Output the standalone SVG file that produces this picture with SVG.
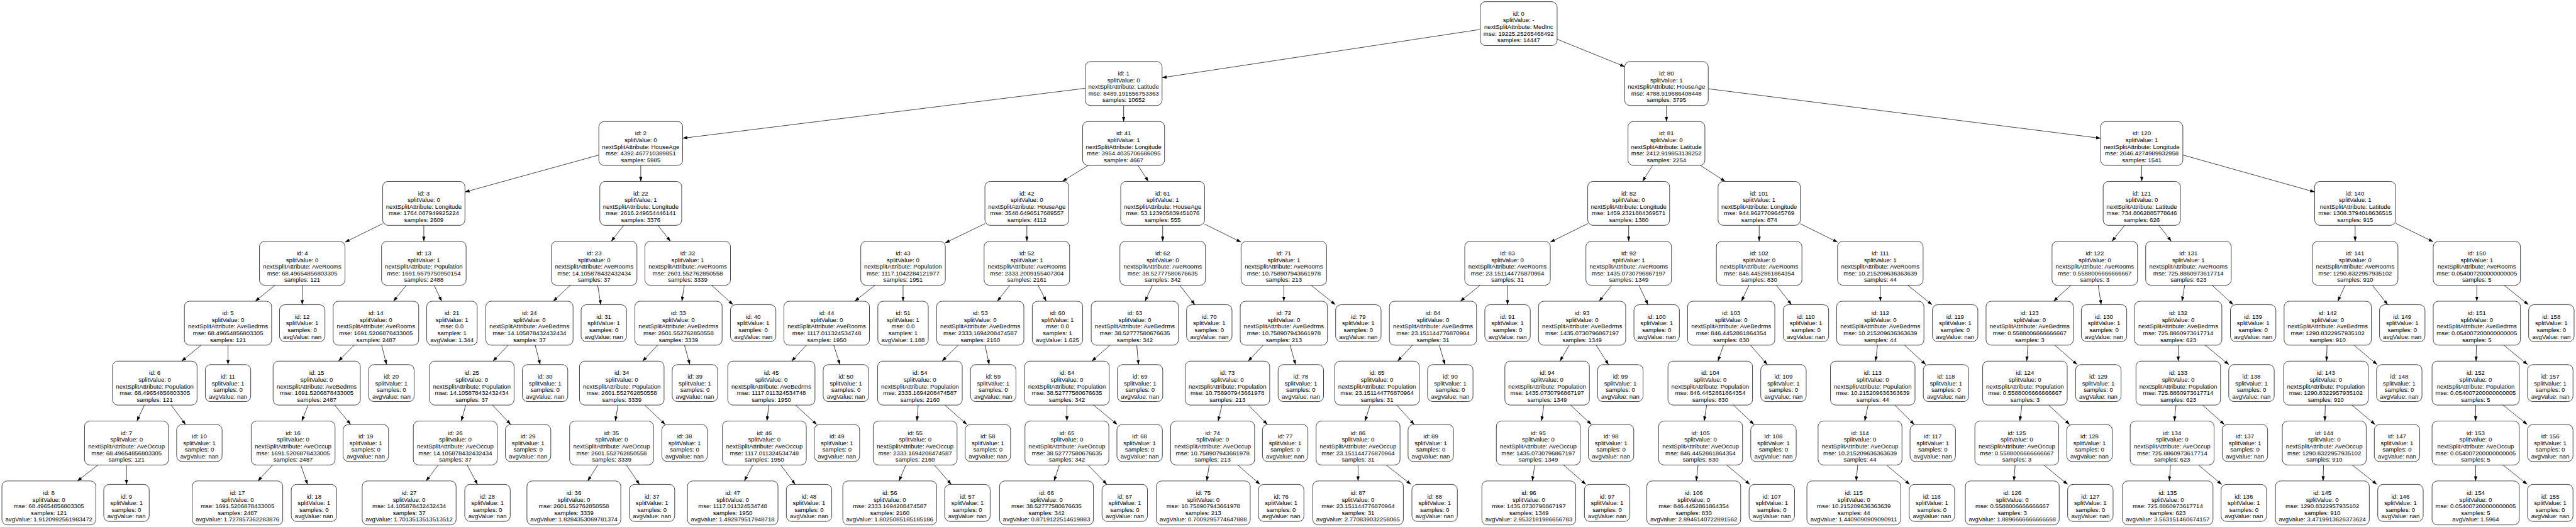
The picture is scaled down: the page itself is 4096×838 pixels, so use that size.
<svg xmlns="http://www.w3.org/2000/svg" width="4096" height="838" viewBox="0 0 4096 838">
<defs>
<marker id="arr" viewBox="0 0 14 10" refX="14" refY="5" markerWidth="14" markerHeight="10" markerUnits="userSpaceOnUse" orient="auto"><path d="M0,0L14,5L0,10z" fill="#000"/></marker>
<style>
.n rect{fill:#fff;stroke:#000;stroke-width:1.4}
.n text{font-family:"Liberation Sans",Arial,Helvetica,sans-serif;font-size:18.2px;text-anchor:middle;fill:#000}
#edges line{stroke:#000;stroke-width:1.4;marker-end:url(#arr)}
</style>
</defs>
<rect width="4096" height="838" fill="#fff"/>
<g transform="scale(0.52927)">
<g id="edges">
<line x1="4447" y1="88.5" x2="3491.2" y2="233.5"/>
<line x1="4678" y1="117.8" x2="4881" y2="200.1"/>
<line x1="3260.2" y1="265.3" x2="2051" y2="415.4"/>
<line x1="3375.7" y1="317" x2="3375.7" y2="365"/>
<line x1="5006.5" y1="317" x2="5006.5" y2="365"/>
<line x1="5132" y1="266.8" x2="6310.9" y2="415.4"/>
<line x1="1799" y1="465.8" x2="1396.8" y2="576.9"/>
<line x1="1925" y1="497" x2="1925" y2="545"/>
<line x1="3269.1" y1="497" x2="3191.6" y2="545"/>
<line x1="3418.7" y1="497" x2="3450" y2="545"/>
<line x1="4964.9" y1="497" x2="4934.6" y2="545"/>
<line x1="5108.6" y1="497" x2="5182.9" y2="545"/>
<line x1="6434.4" y1="497" x2="6434.4" y2="545"/>
<line x1="6557.9" y1="465.7" x2="6954" y2="576.9"/>
<line x1="1149.8" y1="671.9" x2="1036.5" y2="727.7"/>
<line x1="1273.3" y1="677" x2="1273.3" y2="725"/>
<line x1="1873.7" y1="677" x2="1836.3" y2="725"/>
<line x1="1976.7" y1="677" x2="2014.3" y2="725"/>
<line x1="2959" y1="672" x2="2839.5" y2="729.8"/>
<line x1="3085" y1="677" x2="3085" y2="725"/>
<line x1="3493" y1="677" x2="3493" y2="725"/>
<line x1="3619" y1="673.3" x2="3728.5" y2="727.5"/>
<line x1="4770" y1="671.8" x2="4657.5" y2="727.5"/>
<line x1="4893" y1="677" x2="4893" y2="725"/>
<line x1="5285" y1="677" x2="5285" y2="725"/>
<line x1="5408.5" y1="672.1" x2="5520.5" y2="727.5"/>
<line x1="6382.7" y1="677" x2="6345" y2="725"/>
<line x1="6485.8" y1="677" x2="6523.3" y2="725"/>
<line x1="7075.5" y1="677" x2="7075.5" y2="725"/>
<line x1="7197" y1="670.8" x2="7310" y2="726.5"/>
<line x1="826.2" y1="857" x2="766.8" y2="905"/>
<line x1="908" y1="857" x2="908" y2="915.5"/>
<line x1="1220.5" y1="857" x2="1182.2" y2="905"/>
<line x1="1304.3" y1="857" x2="1326.8" y2="905"/>
<line x1="1713.7" y1="857" x2="1661.9" y2="905"/>
<line x1="1795.6" y1="857" x2="1805.1" y2="915.5"/>
<line x1="2055.9" y1="857" x2="2048.5" y2="905"/>
<line x1="2138.1" y1="857" x2="2202.1" y2="915.5"/>
<line x1="2628.9" y1="857" x2="2567.7" y2="905"/>
<line x1="2713" y1="857" x2="2713" y2="905"/>
<line x1="3033.7" y1="857" x2="2996.3" y2="905"/>
<line x1="3118.7" y1="857" x2="3143.3" y2="905"/>
<line x1="3462.3" y1="857" x2="3440" y2="905"/>
<line x1="3544.3" y1="857" x2="3589.8" y2="915.5"/>
<line x1="3857" y1="857" x2="3857" y2="905"/>
<line x1="3939.1" y1="857" x2="4011.8" y2="915.5"/>
<line x1="4446.9" y1="857" x2="4387.1" y2="905"/>
<line x1="4529" y1="857" x2="4529" y2="915.5"/>
<line x1="4841.7" y1="857" x2="4804.3" y2="905"/>
<line x1="4923.8" y1="857" x2="4951.1" y2="915.5"/>
<line x1="5254.2" y1="857" x2="5231.8" y2="905"/>
<line x1="5336.5" y1="857" x2="5382.2" y2="915.5"/>
<line x1="5649" y1="857" x2="5649" y2="905"/>
<line x1="5731.4" y1="857" x2="5804.4" y2="915.5"/>
<line x1="6221.5" y1="857" x2="6169.4" y2="905"/>
<line x1="6303.5" y1="857" x2="6312.5" y2="915.5"/>
<line x1="6563.4" y1="857" x2="6555.3" y2="905"/>
<line x1="6645.9" y1="857" x2="6709.1" y2="915.5"/>
<line x1="7045.3" y1="857" x2="7023.3" y2="905"/>
<line x1="7127.4" y1="857" x2="7173.4" y2="915.5"/>
<line x1="7441" y1="857" x2="7441" y2="905"/>
<line x1="7523.1" y1="857" x2="7595.9" y2="915.5"/>
<line x1="604.3" y1="1037" x2="545.7" y2="1085"/>
<line x1="685" y1="1037" x2="685" y2="1095.5"/>
<line x1="1064.2" y1="1037" x2="1016.7" y2="1085"/>
<line x1="1146.4" y1="1037" x2="1161.5" y2="1095.5"/>
<line x1="1527.1" y1="1037" x2="1480.9" y2="1085"/>
<line x1="1607.8" y1="1037" x2="1623" y2="1095.5"/>
<line x1="1975.9" y1="1037" x2="1930.5" y2="1085"/>
<line x1="2056.5" y1="1037" x2="2072.5" y2="1095.5"/>
<line x1="2422.7" y1="1037" x2="2378.3" y2="1085"/>
<line x1="2504.8" y1="1037" x2="2523.5" y2="1095.5"/>
<line x1="2878.6" y1="1037" x2="2830.2" y2="1085"/>
<line x1="2959.3" y1="1037" x2="2971.9" y2="1095.5"/>
<line x1="3334.5" y1="1037" x2="3280.1" y2="1085"/>
<line x1="3415.1" y1="1037" x2="3420.2" y2="1095.5"/>
<line x1="3794.8" y1="1037" x2="3749.7" y2="1085"/>
<line x1="3875.7" y1="1037" x2="3892.3" y2="1095.5"/>
<line x1="4243.4" y1="1037" x2="4198.6" y2="1085"/>
<line x1="4324.1" y1="1037" x2="4341" y2="1095.5"/>
<line x1="4714.5" y1="1037" x2="4686.5" y2="1085"/>
<line x1="4795.2" y1="1037" x2="4832.5" y2="1095.5"/>
<line x1="5177.9" y1="1037" x2="5161.1" y2="1085"/>
<line x1="5258.6" y1="1037" x2="5309.6" y2="1095.5"/>
<line x1="5640.6" y1="1037" x2="5634.6" y2="1085"/>
<line x1="5721.4" y1="1037" x2="5785.5" y2="1095.5"/>
<line x1="6092.4" y1="1037" x2="6088.7" y2="1085"/>
<line x1="6173.3" y1="1037" x2="6240.4" y2="1095.5"/>
<line x1="6544" y1="1037" x2="6544" y2="1085"/>
<line x1="6624.7" y1="1037" x2="6696.2" y2="1095.5"/>
<line x1="6991" y1="1037" x2="6989.6" y2="1085"/>
<line x1="7071.8" y1="1037" x2="7141.7" y2="1095.5"/>
<line x1="7439.7" y1="1037" x2="7438.8" y2="1085"/>
<line x1="7521.9" y1="1037" x2="7593.7" y2="1095.5"/>
<line x1="433.8" y1="1217" x2="411.2" y2="1265"/>
<line x1="514.1" y1="1217" x2="557.7" y2="1275.5"/>
<line x1="925.5" y1="1217" x2="906.6" y2="1265"/>
<line x1="1005.6" y1="1217" x2="1053.5" y2="1275.5"/>
<line x1="1399.2" y1="1217" x2="1385.9" y2="1265"/>
<line x1="1479.4" y1="1217" x2="1534.4" y2="1275.5"/>
<line x1="1856.7" y1="1217" x2="1848.6" y2="1265"/>
<line x1="1937.2" y1="1217" x2="1998.5" y2="1275.5"/>
<line x1="2309.7" y1="1217" x2="2304" y2="1265"/>
<line x1="2389.6" y1="1217" x2="2453.7" y2="1275.5"/>
<line x1="2758.5" y1="1217" x2="2754.6" y2="1265"/>
<line x1="2838.6" y1="1217" x2="2904.9" y2="1275.5"/>
<line x1="3205.3" y1="1217" x2="3205.3" y2="1265"/>
<line x1="3285.4" y1="1217" x2="3356.4" y2="1275.5"/>
<line x1="3671.2" y1="1217" x2="3659.4" y2="1265"/>
<line x1="3751.1" y1="1217" x2="3807.5" y2="1275.5"/>
<line x1="4116.1" y1="1217" x2="4100.9" y2="1265"/>
<line x1="4196.2" y1="1217" x2="4248.6" y2="1275.5"/>
<line x1="4638.2" y1="1217" x2="4631.2" y2="1265"/>
<line x1="4718.4" y1="1217" x2="4780.8" y2="1275.5"/>
<line x1="5127.4" y1="1217" x2="5119.6" y2="1265"/>
<line x1="5207.7" y1="1217" x2="5269.4" y2="1275.5"/>
<line x1="5612.2" y1="1217" x2="5602" y2="1265"/>
<line x1="5692.3" y1="1217" x2="5750.9" y2="1275.5"/>
<line x1="6074.5" y1="1217" x2="6068" y2="1265"/>
<line x1="6154.6" y1="1217" x2="6217.7" y2="1275.5"/>
<line x1="6537.3" y1="1217" x2="6532.3" y2="1265"/>
<line x1="6617.4" y1="1217" x2="6682.5" y2="1275.5"/>
<line x1="6985.8" y1="1217" x2="6984.5" y2="1265"/>
<line x1="7066" y1="1217" x2="7135.4" y2="1275.5"/>
<line x1="7437.5" y1="1217" x2="7437.5" y2="1265"/>
<line x1="7519.7" y1="1217" x2="7592.6" y2="1275.5"/>
<line x1="294.5" y1="1397" x2="232.3" y2="1445"/>
<line x1="380" y1="1397" x2="380" y2="1455.5"/>
<line x1="819.3" y1="1397" x2="774.8" y2="1445"/>
<line x1="903.6" y1="1397" x2="923.9" y2="1455.5"/>
<line x1="1316.9" y1="1397" x2="1280" y2="1445"/>
<line x1="1403.2" y1="1397" x2="1434.7" y2="1455.5"/>
<line x1="1795.8" y1="1397" x2="1765.6" y2="1445"/>
<line x1="1881.9" y1="1397" x2="1921.3" y2="1455.5"/>
<line x1="2261.5" y1="1397" x2="2236.1" y2="1445"/>
<line x1="2345.5" y1="1397" x2="2389.2" y2="1455.5"/>
<line x1="2721.3" y1="1397" x2="2701" y2="1445"/>
<line x1="2806.9" y1="1397" x2="2858" y2="1455.5"/>
<line x1="3182.8" y1="1397" x2="3166.5" y2="1445"/>
<line x1="3269" y1="1397" x2="3325.4" y2="1455.5"/>
<line x1="3632.8" y1="1397" x2="3625.3" y2="1445"/>
<line x1="3718.6" y1="1397" x2="3785.5" y2="1455.5"/>
<line x1="4080" y1="1397" x2="4080" y2="1445"/>
<line x1="4164.3" y1="1397" x2="4239.1" y2="1455.5"/>
<line x1="4611" y1="1397" x2="4603.4" y2="1445"/>
<line x1="4697.3" y1="1397" x2="4764.5" y2="1455.5"/>
<line x1="5101.5" y1="1397" x2="5096" y2="1445"/>
<line x1="5187.5" y1="1397" x2="5257" y2="1455.5"/>
<line x1="5581.2" y1="1397" x2="5576.2" y2="1445"/>
<line x1="5667.2" y1="1397" x2="5737.4" y2="1455.5"/>
<line x1="6054" y1="1397" x2="6050.4" y2="1445"/>
<line x1="6140" y1="1397" x2="6211.9" y2="1455.5"/>
<line x1="6520.8" y1="1397" x2="6517.2" y2="1445"/>
<line x1="6604.6" y1="1397" x2="6674.6" y2="1455.5"/>
<line x1="6980.6" y1="1397" x2="6979.1" y2="1445"/>
<line x1="7066.6" y1="1397" x2="7141" y2="1455.5"/>
<line x1="7437.5" y1="1397" x2="7437.5" y2="1445"/>
<line x1="7519.7" y1="1397" x2="7592.6" y2="1455.5"/>
</g>
<g id="nodes">
<g id="n0" class="n" transform="translate(4562.5,5)"><rect x="-115.5" width="231" height="132" rx="16"/><text y="42"><tspan x="0">id: 0</tspan><tspan x="0" dy="20">splitValue: -</tspan><tspan x="0" dy="20">nextSplitAttribute: MedInc</tspan><tspan x="0" dy="20">mse: 19225.25265468492</tspan><tspan x="0" dy="20">samples: 14447</tspan></text></g>
<g id="n1" class="n" transform="translate(3375.7,185)"><rect x="-115.5" width="231" height="132" rx="16"/><text y="42"><tspan x="0">id: 1</tspan><tspan x="0" dy="20">splitValue: 0</tspan><tspan x="0" dy="20">nextSplitAttribute: Latitude</tspan><tspan x="0" dy="20">mse: 8489.191556753363</tspan><tspan x="0" dy="20">samples: 10652</tspan></text></g>
<g id="n80" class="n" transform="translate(5006.5,185)"><rect x="-125.5" width="251" height="132" rx="16"/><text y="42"><tspan x="0">id: 80</tspan><tspan x="0" dy="20">splitValue: 1</tspan><tspan x="0" dy="20">nextSplitAttribute: HouseAge</tspan><tspan x="0" dy="20">mse: 4788.919686408448</tspan><tspan x="0" dy="20">samples: 3795</tspan></text></g>
<g id="n2" class="n" transform="translate(1925,365)"><rect x="-126" width="252" height="132" rx="16"/><text y="42"><tspan x="0">id: 2</tspan><tspan x="0" dy="20">splitValue: 0</tspan><tspan x="0" dy="20">nextSplitAttribute: HouseAge</tspan><tspan x="0" dy="20">mse: 4392.467710389851</tspan><tspan x="0" dy="20">samples: 5985</tspan></text></g>
<g id="n41" class="n" transform="translate(3375.7,365)"><rect x="-123" width="246" height="132" rx="16"/><text y="42"><tspan x="0">id: 41</tspan><tspan x="0" dy="20">splitValue: 1</tspan><tspan x="0" dy="20">nextSplitAttribute: Longitude</tspan><tspan x="0" dy="20">mse: 3954.4035706686095</tspan><tspan x="0" dy="20">samples: 4667</tspan></text></g>
<g id="n81" class="n" transform="translate(5006.5,365)"><rect x="-115.5" width="231" height="132" rx="16"/><text y="42"><tspan x="0">id: 81</tspan><tspan x="0" dy="20">splitValue: 0</tspan><tspan x="0" dy="20">nextSplitAttribute: Latitude</tspan><tspan x="0" dy="20">mse: 2412.919853138252</tspan><tspan x="0" dy="20">samples: 2254</tspan></text></g>
<g id="n120" class="n" transform="translate(6434.4,365)"><rect x="-123.5" width="247" height="132" rx="16"/><text y="42"><tspan x="0">id: 120</tspan><tspan x="0" dy="20">splitValue: 1</tspan><tspan x="0" dy="20">nextSplitAttribute: Longitude</tspan><tspan x="0" dy="20">mse: 2046.4274989932958</tspan><tspan x="0" dy="20">samples: 1541</tspan></text></g>
<g id="n3" class="n" transform="translate(1273.3,545)"><rect x="-123.5" width="247" height="132" rx="16"/><text y="42"><tspan x="0">id: 3</tspan><tspan x="0" dy="20">splitValue: 0</tspan><tspan x="0" dy="20">nextSplitAttribute: Longitude</tspan><tspan x="0" dy="20">mse: 1764.087949925224</tspan><tspan x="0" dy="20">samples: 2609</tspan></text></g>
<g id="n22" class="n" transform="translate(1925,545)"><rect x="-123" width="246" height="132" rx="16"/><text y="42"><tspan x="0">id: 22</tspan><tspan x="0" dy="20">splitValue: 1</tspan><tspan x="0" dy="20">nextSplitAttribute: Longitude</tspan><tspan x="0" dy="20">mse: 2616.249654446141</tspan><tspan x="0" dy="20">samples: 3376</tspan></text></g>
<g id="n42" class="n" transform="translate(3085,545)"><rect x="-126" width="252" height="132" rx="16"/><text y="42"><tspan x="0">id: 42</tspan><tspan x="0" dy="20">splitValue: 0</tspan><tspan x="0" dy="20">nextSplitAttribute: HouseAge</tspan><tspan x="0" dy="20">mse: 3548.6496517689557</tspan><tspan x="0" dy="20">samples: 4112</tspan></text></g>
<g id="n61" class="n" transform="translate(3493,545)"><rect x="-126" width="252" height="132" rx="16"/><text y="42"><tspan x="0">id: 61</tspan><tspan x="0" dy="20">splitValue: 1</tspan><tspan x="0" dy="20">nextSplitAttribute: HouseAge</tspan><tspan x="0" dy="20">mse: 53.123905839451076</tspan><tspan x="0" dy="20">samples: 555</tspan></text></g>
<g id="n82" class="n" transform="translate(4893,545)"><rect x="-123" width="246" height="132" rx="16"/><text y="42"><tspan x="0">id: 82</tspan><tspan x="0" dy="20">splitValue: 0</tspan><tspan x="0" dy="20">nextSplitAttribute: Longitude</tspan><tspan x="0" dy="20">mse: 1459.2321884369571</tspan><tspan x="0" dy="20">samples: 1380</tspan></text></g>
<g id="n101" class="n" transform="translate(5285,545)"><rect x="-123.5" width="247" height="132" rx="16"/><text y="42"><tspan x="0">id: 101</tspan><tspan x="0" dy="20">splitValue: 1</tspan><tspan x="0" dy="20">nextSplitAttribute: Longitude</tspan><tspan x="0" dy="20">mse: 944.9627709645769</tspan><tspan x="0" dy="20">samples: 874</tspan></text></g>
<g id="n121" class="n" transform="translate(6434.4,545)"><rect x="-116" width="232" height="132" rx="16"/><text y="42"><tspan x="0">id: 121</tspan><tspan x="0" dy="20">splitValue: 0</tspan><tspan x="0" dy="20">nextSplitAttribute: Latitude</tspan><tspan x="0" dy="20">mse: 734.8062885778646</tspan><tspan x="0" dy="20">samples: 626</tspan></text></g>
<g id="n140" class="n" transform="translate(7075.5,545)"><rect x="-121.5" width="243" height="132" rx="16"/><text y="42"><tspan x="0">id: 140</tspan><tspan x="0" dy="20">splitValue: 1</tspan><tspan x="0" dy="20">nextSplitAttribute: Latitude</tspan><tspan x="0" dy="20">mse: 1308.3794018636515</tspan><tspan x="0" dy="20">samples: 915</tspan></text></g>
<g id="n4" class="n" transform="translate(908,725)"><rect x="-128.5" width="257" height="132" rx="16"/><text y="42"><tspan x="0">id: 4</tspan><tspan x="0" dy="20">splitValue: 0</tspan><tspan x="0" dy="20">nextSplitAttribute: AveRooms</tspan><tspan x="0" dy="20">mse: 68.49654856803305</tspan><tspan x="0" dy="20">samples: 121</tspan></text></g>
<g id="n13" class="n" transform="translate(1273.3,725)"><rect x="-127" width="254" height="132" rx="16"/><text y="42"><tspan x="0">id: 13</tspan><tspan x="0" dy="20">splitValue: 1</tspan><tspan x="0" dy="20">nextSplitAttribute: Population</tspan><tspan x="0" dy="20">mse: 1691.6679750950154</tspan><tspan x="0" dy="20">samples: 2488</tspan></text></g>
<g id="n23" class="n" transform="translate(1785,725)"><rect x="-128.5" width="257" height="132" rx="16"/><text y="42"><tspan x="0">id: 23</tspan><tspan x="0" dy="20">splitValue: 0</tspan><tspan x="0" dy="20">nextSplitAttribute: AveRooms</tspan><tspan x="0" dy="20">mse: 14.105878432432434</tspan><tspan x="0" dy="20">samples: 37</tspan></text></g>
<g id="n32" class="n" transform="translate(2066,725)"><rect x="-128.5" width="257" height="132" rx="16"/><text y="42"><tspan x="0">id: 32</tspan><tspan x="0" dy="20">splitValue: 1</tspan><tspan x="0" dy="20">nextSplitAttribute: AveRooms</tspan><tspan x="0" dy="20">mse: 2601.552762850558</tspan><tspan x="0" dy="20">samples: 3339</tspan></text></g>
<g id="n43" class="n" transform="translate(2713,725)"><rect x="-127" width="254" height="132" rx="16"/><text y="42"><tspan x="0">id: 43</tspan><tspan x="0" dy="20">splitValue: 0</tspan><tspan x="0" dy="20">nextSplitAttribute: Population</tspan><tspan x="0" dy="20">mse: 1117.1042284121977</tspan><tspan x="0" dy="20">samples: 1951</tspan></text></g>
<g id="n52" class="n" transform="translate(3085,725)"><rect x="-128.5" width="257" height="132" rx="16"/><text y="42"><tspan x="0">id: 52</tspan><tspan x="0" dy="20">splitValue: 1</tspan><tspan x="0" dy="20">nextSplitAttribute: AveRooms</tspan><tspan x="0" dy="20">mse: 2333.2009155407304</tspan><tspan x="0" dy="20">samples: 2161</tspan></text></g>
<g id="n62" class="n" transform="translate(3493,725)"><rect x="-128.5" width="257" height="132" rx="16"/><text y="42"><tspan x="0">id: 62</tspan><tspan x="0" dy="20">splitValue: 0</tspan><tspan x="0" dy="20">nextSplitAttribute: AveRooms</tspan><tspan x="0" dy="20">mse: 38.52777580676635</tspan><tspan x="0" dy="20">samples: 342</tspan></text></g>
<g id="n71" class="n" transform="translate(3857,725)"><rect x="-128.5" width="257" height="132" rx="16"/><text y="42"><tspan x="0">id: 71</tspan><tspan x="0" dy="20">splitValue: 1</tspan><tspan x="0" dy="20">nextSplitAttribute: AveRooms</tspan><tspan x="0" dy="20">mse: 10.758907943661978</tspan><tspan x="0" dy="20">samples: 213</tspan></text></g>
<g id="n83" class="n" transform="translate(4529,725)"><rect x="-128.5" width="257" height="132" rx="16"/><text y="42"><tspan x="0">id: 83</tspan><tspan x="0" dy="20">splitValue: 0</tspan><tspan x="0" dy="20">nextSplitAttribute: AveRooms</tspan><tspan x="0" dy="20">mse: 23.151144776870964</tspan><tspan x="0" dy="20">samples: 31</tspan></text></g>
<g id="n92" class="n" transform="translate(4893,725)"><rect x="-128.5" width="257" height="132" rx="16"/><text y="42"><tspan x="0">id: 92</tspan><tspan x="0" dy="20">splitValue: 1</tspan><tspan x="0" dy="20">nextSplitAttribute: AveRooms</tspan><tspan x="0" dy="20">mse: 1435.0730796867197</tspan><tspan x="0" dy="20">samples: 1349</tspan></text></g>
<g id="n102" class="n" transform="translate(5285,725)"><rect x="-128.5" width="257" height="132" rx="16"/><text y="42"><tspan x="0">id: 102</tspan><tspan x="0" dy="20">splitValue: 0</tspan><tspan x="0" dy="20">nextSplitAttribute: AveRooms</tspan><tspan x="0" dy="20">mse: 846.4452861864354</tspan><tspan x="0" dy="20">samples: 830</tspan></text></g>
<g id="n111" class="n" transform="translate(5649,725)"><rect x="-128.5" width="257" height="132" rx="16"/><text y="42"><tspan x="0">id: 111</tspan><tspan x="0" dy="20">splitValue: 1</tspan><tspan x="0" dy="20">nextSplitAttribute: AveRooms</tspan><tspan x="0" dy="20">mse: 10.215209636363639</tspan><tspan x="0" dy="20">samples: 44</tspan></text></g>
<g id="n122" class="n" transform="translate(6293.3,725)"><rect x="-128.5" width="257" height="132" rx="16"/><text y="42"><tspan x="0">id: 122</tspan><tspan x="0" dy="20">splitValue: 0</tspan><tspan x="0" dy="20">nextSplitAttribute: AveRooms</tspan><tspan x="0" dy="20">mse: 0.5588006666666667</tspan><tspan x="0" dy="20">samples: 3</tspan></text></g>
<g id="n131" class="n" transform="translate(6574.7,725)"><rect x="-128.5" width="257" height="132" rx="16"/><text y="42"><tspan x="0">id: 131</tspan><tspan x="0" dy="20">splitValue: 1</tspan><tspan x="0" dy="20">nextSplitAttribute: AveRooms</tspan><tspan x="0" dy="20">mse: 725.8860973617714</tspan><tspan x="0" dy="20">samples: 623</tspan></text></g>
<g id="n141" class="n" transform="translate(7075.5,725)"><rect x="-128.5" width="257" height="132" rx="16"/><text y="42"><tspan x="0">id: 141</tspan><tspan x="0" dy="20">splitValue: 0</tspan><tspan x="0" dy="20">nextSplitAttribute: AveRooms</tspan><tspan x="0" dy="20">mse: 1290.8322957935102</tspan><tspan x="0" dy="20">samples: 910</tspan></text></g>
<g id="n150" class="n" transform="translate(7441,725)"><rect x="-131" width="262" height="132" rx="16"/><text y="42"><tspan x="0">id: 150</tspan><tspan x="0" dy="20">splitValue: 1</tspan><tspan x="0" dy="20">nextSplitAttribute: AveRooms</tspan><tspan x="0" dy="20">mse: 0.054007200000000005</tspan><tspan x="0" dy="20">samples: 5</tspan></text></g>
<g id="n5" class="n" transform="translate(685,905)"><rect x="-131" width="262" height="132" rx="16"/><text y="42"><tspan x="0">id: 5</tspan><tspan x="0" dy="20">splitValue: 0</tspan><tspan x="0" dy="20">nextSplitAttribute: AveBedrms</tspan><tspan x="0" dy="20">mse: 68.49654856803305</tspan><tspan x="0" dy="20">samples: 121</tspan></text></g>
<g id="n12" class="n" transform="translate(908,915.5)"><rect x="-68.25" width="136.5" height="111" rx="16"/><text y="42"><tspan x="0">id: 12</tspan><tspan x="0" dy="20">splitValue: 1</tspan><tspan x="0" dy="20">samples: 0</tspan><tspan x="0" dy="20">avgValue: nan</tspan></text></g>
<g id="n14" class="n" transform="translate(1129.4,905)"><rect x="-128.5" width="257" height="132" rx="16"/><text y="42"><tspan x="0">id: 14</tspan><tspan x="0" dy="20">splitValue: 0</tspan><tspan x="0" dy="20">nextSplitAttribute: AveRooms</tspan><tspan x="0" dy="20">mse: 1691.5206878433005</tspan><tspan x="0" dy="20">samples: 2487</tspan></text></g>
<g id="n21" class="n" transform="translate(1357.8,905)"><rect x="-75.75" width="151.5" height="132" rx="16"/><text y="42"><tspan x="0">id: 21</tspan><tspan x="0" dy="20">splitValue: 1</tspan><tspan x="0" dy="20">mse: 0.0</tspan><tspan x="0" dy="20">samples: 1</tspan><tspan x="0" dy="20">avgValue: 1.344</tspan></text></g>
<g id="n24" class="n" transform="translate(1590.6,905)"><rect x="-131" width="262" height="132" rx="16"/><text y="42"><tspan x="0">id: 24</tspan><tspan x="0" dy="20">splitValue: 0</tspan><tspan x="0" dy="20">nextSplitAttribute: AveBedrms</tspan><tspan x="0" dy="20">mse: 14.105878432432434</tspan><tspan x="0" dy="20">samples: 37</tspan></text></g>
<g id="n31" class="n" transform="translate(1814,915.5)"><rect x="-68.25" width="136.5" height="111" rx="16"/><text y="42"><tspan x="0">id: 31</tspan><tspan x="0" dy="20">splitValue: 1</tspan><tspan x="0" dy="20">samples: 0</tspan><tspan x="0" dy="20">avgValue: nan</tspan></text></g>
<g id="n33" class="n" transform="translate(2038.4,905)"><rect x="-131" width="262" height="132" rx="16"/><text y="42"><tspan x="0">id: 33</tspan><tspan x="0" dy="20">splitValue: 0</tspan><tspan x="0" dy="20">nextSplitAttribute: AveBedrms</tspan><tspan x="0" dy="20">mse: 2601.552762850558</tspan><tspan x="0" dy="20">samples: 3339</tspan></text></g>
<g id="n40" class="n" transform="translate(2262.7,915.5)"><rect x="-68.25" width="136.5" height="111" rx="16"/><text y="42"><tspan x="0">id: 40</tspan><tspan x="0" dy="20">splitValue: 1</tspan><tspan x="0" dy="20">samples: 0</tspan><tspan x="0" dy="20">avgValue: nan</tspan></text></g>
<g id="n44" class="n" transform="translate(2483.6,905)"><rect x="-128.5" width="257" height="132" rx="16"/><text y="42"><tspan x="0">id: 44</tspan><tspan x="0" dy="20">splitValue: 0</tspan><tspan x="0" dy="20">nextSplitAttribute: AveRooms</tspan><tspan x="0" dy="20">mse: 1117.011324534748</tspan><tspan x="0" dy="20">samples: 1950</tspan></text></g>
<g id="n51" class="n" transform="translate(2713,905)"><rect x="-75.75" width="151.5" height="132" rx="16"/><text y="42"><tspan x="0">id: 51</tspan><tspan x="0" dy="20">splitValue: 1</tspan><tspan x="0" dy="20">mse: 0.0</tspan><tspan x="0" dy="20">samples: 1</tspan><tspan x="0" dy="20">avgValue: 1.188</tspan></text></g>
<g id="n53" class="n" transform="translate(2945,905)"><rect x="-131" width="262" height="132" rx="16"/><text y="42"><tspan x="0">id: 53</tspan><tspan x="0" dy="20">splitValue: 0</tspan><tspan x="0" dy="20">nextSplitAttribute: AveBedrms</tspan><tspan x="0" dy="20">mse: 2333.1694208474587</tspan><tspan x="0" dy="20">samples: 2160</tspan></text></g>
<g id="n60" class="n" transform="translate(3177,905)"><rect x="-75.75" width="151.5" height="132" rx="16"/><text y="42"><tspan x="0">id: 60</tspan><tspan x="0" dy="20">splitValue: 1</tspan><tspan x="0" dy="20">mse: 0.0</tspan><tspan x="0" dy="20">samples: 1</tspan><tspan x="0" dy="20">avgValue: 1.625</tspan></text></g>
<g id="n63" class="n" transform="translate(3409.3,905)"><rect x="-131" width="262" height="132" rx="16"/><text y="42"><tspan x="0">id: 63</tspan><tspan x="0" dy="20">splitValue: 0</tspan><tspan x="0" dy="20">nextSplitAttribute: AveBedrms</tspan><tspan x="0" dy="20">mse: 38.52777580676635</tspan><tspan x="0" dy="20">samples: 342</tspan></text></g>
<g id="n70" class="n" transform="translate(3633,915.5)"><rect x="-68.25" width="136.5" height="111" rx="16"/><text y="42"><tspan x="0">id: 70</tspan><tspan x="0" dy="20">splitValue: 1</tspan><tspan x="0" dy="20">samples: 0</tspan><tspan x="0" dy="20">avgValue: nan</tspan></text></g>
<g id="n72" class="n" transform="translate(3857,905)"><rect x="-131" width="262" height="132" rx="16"/><text y="42"><tspan x="0">id: 72</tspan><tspan x="0" dy="20">splitValue: 0</tspan><tspan x="0" dy="20">nextSplitAttribute: AveBedrms</tspan><tspan x="0" dy="20">mse: 10.758907943661978</tspan><tspan x="0" dy="20">samples: 213</tspan></text></g>
<g id="n79" class="n" transform="translate(4080.8,915.5)"><rect x="-68.25" width="136.5" height="111" rx="16"/><text y="42"><tspan x="0">id: 79</tspan><tspan x="0" dy="20">splitValue: 1</tspan><tspan x="0" dy="20">samples: 0</tspan><tspan x="0" dy="20">avgValue: nan</tspan></text></g>
<g id="n84" class="n" transform="translate(4305,905)"><rect x="-131" width="262" height="132" rx="16"/><text y="42"><tspan x="0">id: 84</tspan><tspan x="0" dy="20">splitValue: 0</tspan><tspan x="0" dy="20">nextSplitAttribute: AveBedrms</tspan><tspan x="0" dy="20">mse: 23.151144776870964</tspan><tspan x="0" dy="20">samples: 31</tspan></text></g>
<g id="n91" class="n" transform="translate(4529,915.5)"><rect x="-68.25" width="136.5" height="111" rx="16"/><text y="42"><tspan x="0">id: 91</tspan><tspan x="0" dy="20">splitValue: 1</tspan><tspan x="0" dy="20">samples: 0</tspan><tspan x="0" dy="20">avgValue: nan</tspan></text></g>
<g id="n93" class="n" transform="translate(4753,905)"><rect x="-131" width="262" height="132" rx="16"/><text y="42"><tspan x="0">id: 93</tspan><tspan x="0" dy="20">splitValue: 0</tspan><tspan x="0" dy="20">nextSplitAttribute: AveBedrms</tspan><tspan x="0" dy="20">mse: 1435.0730796867197</tspan><tspan x="0" dy="20">samples: 1349</tspan></text></g>
<g id="n100" class="n" transform="translate(4977,915.5)"><rect x="-68.25" width="136.5" height="111" rx="16"/><text y="42"><tspan x="0">id: 100</tspan><tspan x="0" dy="20">splitValue: 1</tspan><tspan x="0" dy="20">samples: 0</tspan><tspan x="0" dy="20">avgValue: nan</tspan></text></g>
<g id="n103" class="n" transform="translate(5201,905)"><rect x="-131" width="262" height="132" rx="16"/><text y="42"><tspan x="0">id: 103</tspan><tspan x="0" dy="20">splitValue: 0</tspan><tspan x="0" dy="20">nextSplitAttribute: AveBedrms</tspan><tspan x="0" dy="20">mse: 846.4452861864354</tspan><tspan x="0" dy="20">samples: 830</tspan></text></g>
<g id="n110" class="n" transform="translate(5425.5,915.5)"><rect x="-68.25" width="136.5" height="111" rx="16"/><text y="42"><tspan x="0">id: 110</tspan><tspan x="0" dy="20">splitValue: 1</tspan><tspan x="0" dy="20">samples: 0</tspan><tspan x="0" dy="20">avgValue: nan</tspan></text></g>
<g id="n112" class="n" transform="translate(5649,905)"><rect x="-131" width="262" height="132" rx="16"/><text y="42"><tspan x="0">id: 112</tspan><tspan x="0" dy="20">splitValue: 0</tspan><tspan x="0" dy="20">nextSplitAttribute: AveBedrms</tspan><tspan x="0" dy="20">mse: 10.215209636363639</tspan><tspan x="0" dy="20">samples: 44</tspan></text></g>
<g id="n119" class="n" transform="translate(5873.7,915.5)"><rect x="-68.25" width="136.5" height="111" rx="16"/><text y="42"><tspan x="0">id: 119</tspan><tspan x="0" dy="20">splitValue: 1</tspan><tspan x="0" dy="20">samples: 0</tspan><tspan x="0" dy="20">avgValue: nan</tspan></text></g>
<g id="n123" class="n" transform="translate(6097.6,905)"><rect x="-131" width="262" height="132" rx="16"/><text y="42"><tspan x="0">id: 123</tspan><tspan x="0" dy="20">splitValue: 0</tspan><tspan x="0" dy="20">nextSplitAttribute: AveBedrms</tspan><tspan x="0" dy="20">mse: 0.5588006666666667</tspan><tspan x="0" dy="20">samples: 3</tspan></text></g>
<g id="n130" class="n" transform="translate(6321,915.5)"><rect x="-68.25" width="136.5" height="111" rx="16"/><text y="42"><tspan x="0">id: 130</tspan><tspan x="0" dy="20">splitValue: 1</tspan><tspan x="0" dy="20">samples: 0</tspan><tspan x="0" dy="20">avgValue: nan</tspan></text></g>
<g id="n132" class="n" transform="translate(6544,905)"><rect x="-131" width="262" height="132" rx="16"/><text y="42"><tspan x="0">id: 132</tspan><tspan x="0" dy="20">splitValue: 0</tspan><tspan x="0" dy="20">nextSplitAttribute: AveBedrms</tspan><tspan x="0" dy="20">mse: 725.8860973617714</tspan><tspan x="0" dy="20">samples: 623</tspan></text></g>
<g id="n139" class="n" transform="translate(6769,915.5)"><rect x="-68.25" width="136.5" height="111" rx="16"/><text y="42"><tspan x="0">id: 139</tspan><tspan x="0" dy="20">splitValue: 1</tspan><tspan x="0" dy="20">samples: 0</tspan><tspan x="0" dy="20">avgValue: nan</tspan></text></g>
<g id="n142" class="n" transform="translate(6993,905)"><rect x="-131" width="262" height="132" rx="16"/><text y="42"><tspan x="0">id: 142</tspan><tspan x="0" dy="20">splitValue: 0</tspan><tspan x="0" dy="20">nextSplitAttribute: AveBedrms</tspan><tspan x="0" dy="20">mse: 1290.8322957935102</tspan><tspan x="0" dy="20">samples: 910</tspan></text></g>
<g id="n149" class="n" transform="translate(7217,915.5)"><rect x="-68.25" width="136.5" height="111" rx="16"/><text y="42"><tspan x="0">id: 149</tspan><tspan x="0" dy="20">splitValue: 1</tspan><tspan x="0" dy="20">samples: 0</tspan><tspan x="0" dy="20">avgValue: nan</tspan></text></g>
<g id="n151" class="n" transform="translate(7441,905)"><rect x="-131" width="262" height="132" rx="16"/><text y="42"><tspan x="0">id: 151</tspan><tspan x="0" dy="20">splitValue: 0</tspan><tspan x="0" dy="20">nextSplitAttribute: AveBedrms</tspan><tspan x="0" dy="20">mse: 0.054007200000000005</tspan><tspan x="0" dy="20">samples: 5</tspan></text></g>
<g id="n158" class="n" transform="translate(7665,915.5)"><rect x="-68.25" width="136.5" height="111" rx="16"/><text y="42"><tspan x="0">id: 158</tspan><tspan x="0" dy="20">splitValue: 1</tspan><tspan x="0" dy="20">samples: 0</tspan><tspan x="0" dy="20">avgValue: nan</tspan></text></g>
<g id="n6" class="n" transform="translate(465,1085)"><rect x="-127" width="254" height="132" rx="16"/><text y="42"><tspan x="0">id: 6</tspan><tspan x="0" dy="20">splitValue: 0</tspan><tspan x="0" dy="20">nextSplitAttribute: Population</tspan><tspan x="0" dy="20">mse: 68.49654856803305</tspan><tspan x="0" dy="20">samples: 121</tspan></text></g>
<g id="n11" class="n" transform="translate(685,1095.5)"><rect x="-68.25" width="136.5" height="111" rx="16"/><text y="42"><tspan x="0">id: 11</tspan><tspan x="0" dy="20">splitValue: 1</tspan><tspan x="0" dy="20">samples: 0</tspan><tspan x="0" dy="20">avgValue: nan</tspan></text></g>
<g id="n15" class="n" transform="translate(951.5,1085)"><rect x="-131" width="262" height="132" rx="16"/><text y="42"><tspan x="0">id: 15</tspan><tspan x="0" dy="20">splitValue: 0</tspan><tspan x="0" dy="20">nextSplitAttribute: AveBedrms</tspan><tspan x="0" dy="20">mse: 1691.5206878433005</tspan><tspan x="0" dy="20">samples: 2487</tspan></text></g>
<g id="n20" class="n" transform="translate(1175.8,1095.5)"><rect x="-68.25" width="136.5" height="111" rx="16"/><text y="42"><tspan x="0">id: 20</tspan><tspan x="0" dy="20">splitValue: 1</tspan><tspan x="0" dy="20">samples: 0</tspan><tspan x="0" dy="20">avgValue: nan</tspan></text></g>
<g id="n25" class="n" transform="translate(1417.4,1085)"><rect x="-127" width="254" height="132" rx="16"/><text y="42"><tspan x="0">id: 25</tspan><tspan x="0" dy="20">splitValue: 0</tspan><tspan x="0" dy="20">nextSplitAttribute: Population</tspan><tspan x="0" dy="20">mse: 14.105878432432434</tspan><tspan x="0" dy="20">samples: 37</tspan></text></g>
<g id="n30" class="n" transform="translate(1637.5,1095.5)"><rect x="-68.25" width="136.5" height="111" rx="16"/><text y="42"><tspan x="0">id: 30</tspan><tspan x="0" dy="20">splitValue: 1</tspan><tspan x="0" dy="20">samples: 0</tspan><tspan x="0" dy="20">avgValue: nan</tspan></text></g>
<g id="n34" class="n" transform="translate(1868,1085)"><rect x="-127" width="254" height="132" rx="16"/><text y="42"><tspan x="0">id: 34</tspan><tspan x="0" dy="20">splitValue: 0</tspan><tspan x="0" dy="20">nextSplitAttribute: Population</tspan><tspan x="0" dy="20">mse: 2601.552762850558</tspan><tspan x="0" dy="20">samples: 3339</tspan></text></g>
<g id="n39" class="n" transform="translate(2087.7,1095.5)"><rect x="-68.25" width="136.5" height="111" rx="16"/><text y="42"><tspan x="0">id: 39</tspan><tspan x="0" dy="20">splitValue: 1</tspan><tspan x="0" dy="20">samples: 0</tspan><tspan x="0" dy="20">avgValue: nan</tspan></text></g>
<g id="n45" class="n" transform="translate(2317.4,1085)"><rect x="-131" width="262" height="132" rx="16"/><text y="42"><tspan x="0">id: 45</tspan><tspan x="0" dy="20">splitValue: 0</tspan><tspan x="0" dy="20">nextSplitAttribute: AveBedrms</tspan><tspan x="0" dy="20">mse: 1117.011324534748</tspan><tspan x="0" dy="20">samples: 1950</tspan></text></g>
<g id="n50" class="n" transform="translate(2541.3,1095.5)"><rect x="-68.25" width="136.5" height="111" rx="16"/><text y="42"><tspan x="0">id: 50</tspan><tspan x="0" dy="20">splitValue: 1</tspan><tspan x="0" dy="20">samples: 0</tspan><tspan x="0" dy="20">avgValue: nan</tspan></text></g>
<g id="n54" class="n" transform="translate(2763.8,1085)"><rect x="-127" width="254" height="132" rx="16"/><text y="42"><tspan x="0">id: 54</tspan><tspan x="0" dy="20">splitValue: 0</tspan><tspan x="0" dy="20">nextSplitAttribute: Population</tspan><tspan x="0" dy="20">mse: 2333.1694208474587</tspan><tspan x="0" dy="20">samples: 2160</tspan></text></g>
<g id="n59" class="n" transform="translate(2983.9,1095.5)"><rect x="-68.25" width="136.5" height="111" rx="16"/><text y="42"><tspan x="0">id: 59</tspan><tspan x="0" dy="20">splitValue: 1</tspan><tspan x="0" dy="20">samples: 0</tspan><tspan x="0" dy="20">avgValue: nan</tspan></text></g>
<g id="n64" class="n" transform="translate(3205.3,1085)"><rect x="-127" width="254" height="132" rx="16"/><text y="42"><tspan x="0">id: 64</tspan><tspan x="0" dy="20">splitValue: 0</tspan><tspan x="0" dy="20">nextSplitAttribute: Population</tspan><tspan x="0" dy="20">mse: 38.52777580676635</tspan><tspan x="0" dy="20">samples: 342</tspan></text></g>
<g id="n69" class="n" transform="translate(3425,1095.5)"><rect x="-68.25" width="136.5" height="111" rx="16"/><text y="42"><tspan x="0">id: 69</tspan><tspan x="0" dy="20">splitValue: 1</tspan><tspan x="0" dy="20">samples: 0</tspan><tspan x="0" dy="20">avgValue: nan</tspan></text></g>
<g id="n73" class="n" transform="translate(3687.5,1085)"><rect x="-127" width="254" height="132" rx="16"/><text y="42"><tspan x="0">id: 73</tspan><tspan x="0" dy="20">splitValue: 0</tspan><tspan x="0" dy="20">nextSplitAttribute: Population</tspan><tspan x="0" dy="20">mse: 10.758907943661978</tspan><tspan x="0" dy="20">samples: 213</tspan></text></g>
<g id="n78" class="n" transform="translate(3908,1095.5)"><rect x="-68.25" width="136.5" height="111" rx="16"/><text y="42"><tspan x="0">id: 78</tspan><tspan x="0" dy="20">splitValue: 1</tspan><tspan x="0" dy="20">samples: 0</tspan><tspan x="0" dy="20">avgValue: nan</tspan></text></g>
<g id="n85" class="n" transform="translate(4137,1085)"><rect x="-127" width="254" height="132" rx="16"/><text y="42"><tspan x="0">id: 85</tspan><tspan x="0" dy="20">splitValue: 0</tspan><tspan x="0" dy="20">nextSplitAttribute: Population</tspan><tspan x="0" dy="20">mse: 23.151144776870964</tspan><tspan x="0" dy="20">samples: 31</tspan></text></g>
<g id="n90" class="n" transform="translate(4357,1095.5)"><rect x="-68.25" width="136.5" height="111" rx="16"/><text y="42"><tspan x="0">id: 90</tspan><tspan x="0" dy="20">splitValue: 1</tspan><tspan x="0" dy="20">samples: 0</tspan><tspan x="0" dy="20">avgValue: nan</tspan></text></g>
<g id="n94" class="n" transform="translate(4648,1085)"><rect x="-127" width="254" height="132" rx="16"/><text y="42"><tspan x="0">id: 94</tspan><tspan x="0" dy="20">splitValue: 0</tspan><tspan x="0" dy="20">nextSplitAttribute: Population</tspan><tspan x="0" dy="20">mse: 1435.0730796867197</tspan><tspan x="0" dy="20">samples: 1349</tspan></text></g>
<g id="n99" class="n" transform="translate(4868,1095.5)"><rect x="-68.25" width="136.5" height="111" rx="16"/><text y="42"><tspan x="0">id: 99</tspan><tspan x="0" dy="20">splitValue: 1</tspan><tspan x="0" dy="20">samples: 0</tspan><tspan x="0" dy="20">avgValue: nan</tspan></text></g>
<g id="n104" class="n" transform="translate(5138,1085)"><rect x="-127" width="254" height="132" rx="16"/><text y="42"><tspan x="0">id: 104</tspan><tspan x="0" dy="20">splitValue: 0</tspan><tspan x="0" dy="20">nextSplitAttribute: Population</tspan><tspan x="0" dy="20">mse: 846.4452861864354</tspan><tspan x="0" dy="20">samples: 830</tspan></text></g>
<g id="n109" class="n" transform="translate(5358,1095.5)"><rect x="-68.25" width="136.5" height="111" rx="16"/><text y="42"><tspan x="0">id: 109</tspan><tspan x="0" dy="20">splitValue: 1</tspan><tspan x="0" dy="20">samples: 0</tspan><tspan x="0" dy="20">avgValue: nan</tspan></text></g>
<g id="n113" class="n" transform="translate(5626.2,1085)"><rect x="-127" width="254" height="132" rx="16"/><text y="42"><tspan x="0">id: 113</tspan><tspan x="0" dy="20">splitValue: 0</tspan><tspan x="0" dy="20">nextSplitAttribute: Population</tspan><tspan x="0" dy="20">mse: 10.215209636363639</tspan><tspan x="0" dy="20">samples: 44</tspan></text></g>
<g id="n118" class="n" transform="translate(5846.4,1095.5)"><rect x="-68.25" width="136.5" height="111" rx="16"/><text y="42"><tspan x="0">id: 118</tspan><tspan x="0" dy="20">splitValue: 1</tspan><tspan x="0" dy="20">samples: 0</tspan><tspan x="0" dy="20">avgValue: nan</tspan></text></g>
<g id="n124" class="n" transform="translate(6083.5,1085)"><rect x="-127" width="254" height="132" rx="16"/><text y="42"><tspan x="0">id: 124</tspan><tspan x="0" dy="20">splitValue: 0</tspan><tspan x="0" dy="20">nextSplitAttribute: Population</tspan><tspan x="0" dy="20">mse: 0.5588006666666667</tspan><tspan x="0" dy="20">samples: 3</tspan></text></g>
<g id="n129" class="n" transform="translate(6304,1095.5)"><rect x="-68.25" width="136.5" height="111" rx="16"/><text y="42"><tspan x="0">id: 129</tspan><tspan x="0" dy="20">splitValue: 1</tspan><tspan x="0" dy="20">samples: 0</tspan><tspan x="0" dy="20">avgValue: nan</tspan></text></g>
<g id="n133" class="n" transform="translate(6544,1085)"><rect x="-127" width="254" height="132" rx="16"/><text y="42"><tspan x="0">id: 133</tspan><tspan x="0" dy="20">splitValue: 0</tspan><tspan x="0" dy="20">nextSplitAttribute: Population</tspan><tspan x="0" dy="20">mse: 725.8860973617714</tspan><tspan x="0" dy="20">samples: 623</tspan></text></g>
<g id="n138" class="n" transform="translate(6764,1095.5)"><rect x="-68.25" width="136.5" height="111" rx="16"/><text y="42"><tspan x="0">id: 138</tspan><tspan x="0" dy="20">splitValue: 1</tspan><tspan x="0" dy="20">samples: 0</tspan><tspan x="0" dy="20">avgValue: nan</tspan></text></g>
<g id="n143" class="n" transform="translate(6987.6,1085)"><rect x="-127" width="254" height="132" rx="16"/><text y="42"><tspan x="0">id: 143</tspan><tspan x="0" dy="20">splitValue: 0</tspan><tspan x="0" dy="20">nextSplitAttribute: Population</tspan><tspan x="0" dy="20">mse: 1290.8322957935102</tspan><tspan x="0" dy="20">samples: 910</tspan></text></g>
<g id="n148" class="n" transform="translate(7208,1095.5)"><rect x="-68.25" width="136.5" height="111" rx="16"/><text y="42"><tspan x="0">id: 148</tspan><tspan x="0" dy="20">splitValue: 1</tspan><tspan x="0" dy="20">samples: 0</tspan><tspan x="0" dy="20">avgValue: nan</tspan></text></g>
<g id="n152" class="n" transform="translate(7437.5,1085)"><rect x="-131" width="262" height="132" rx="16"/><text y="42"><tspan x="0">id: 152</tspan><tspan x="0" dy="20">splitValue: 0</tspan><tspan x="0" dy="20">nextSplitAttribute: Population</tspan><tspan x="0" dy="20">mse: 0.054007200000000005</tspan><tspan x="0" dy="20">samples: 5</tspan></text></g>
<g id="n157" class="n" transform="translate(7661.7,1095.5)"><rect x="-68.25" width="136.5" height="111" rx="16"/><text y="42"><tspan x="0">id: 157</tspan><tspan x="0" dy="20">splitValue: 1</tspan><tspan x="0" dy="20">samples: 0</tspan><tspan x="0" dy="20">avgValue: nan</tspan></text></g>
<g id="n7" class="n" transform="translate(380,1265)"><rect x="-126" width="252" height="132" rx="16"/><text y="42"><tspan x="0">id: 7</tspan><tspan x="0" dy="20">splitValue: 0</tspan><tspan x="0" dy="20">nextSplitAttribute: AveOccup</tspan><tspan x="0" dy="20">mse: 68.49654856803305</tspan><tspan x="0" dy="20">samples: 121</tspan></text></g>
<g id="n10" class="n" transform="translate(599,1275.5)"><rect x="-68.25" width="136.5" height="111" rx="16"/><text y="42"><tspan x="0">id: 10</tspan><tspan x="0" dy="20">splitValue: 1</tspan><tspan x="0" dy="20">samples: 0</tspan><tspan x="0" dy="20">avgValue: nan</tspan></text></g>
<g id="n16" class="n" transform="translate(880.6,1265)"><rect x="-126" width="252" height="132" rx="16"/><text y="42"><tspan x="0">id: 16</tspan><tspan x="0" dy="20">splitValue: 0</tspan><tspan x="0" dy="20">nextSplitAttribute: AveOccup</tspan><tspan x="0" dy="20">mse: 1691.5206878433005</tspan><tspan x="0" dy="20">samples: 2487</tspan></text></g>
<g id="n19" class="n" transform="translate(1099,1275.5)"><rect x="-68.25" width="136.5" height="111" rx="16"/><text y="42"><tspan x="0">id: 19</tspan><tspan x="0" dy="20">splitValue: 1</tspan><tspan x="0" dy="20">samples: 0</tspan><tspan x="0" dy="20">avgValue: nan</tspan></text></g>
<g id="n26" class="n" transform="translate(1367.7,1265)"><rect x="-126" width="252" height="132" rx="16"/><text y="42"><tspan x="0">id: 26</tspan><tspan x="0" dy="20">splitValue: 0</tspan><tspan x="0" dy="20">nextSplitAttribute: AveOccup</tspan><tspan x="0" dy="20">mse: 14.105878432432434</tspan><tspan x="0" dy="20">samples: 37</tspan></text></g>
<g id="n29" class="n" transform="translate(1586.5,1275.5)"><rect x="-68.25" width="136.5" height="111" rx="16"/><text y="42"><tspan x="0">id: 29</tspan><tspan x="0" dy="20">splitValue: 1</tspan><tspan x="0" dy="20">samples: 0</tspan><tspan x="0" dy="20">avgValue: nan</tspan></text></g>
<g id="n35" class="n" transform="translate(1837.3,1265)"><rect x="-126" width="252" height="132" rx="16"/><text y="42"><tspan x="0">id: 35</tspan><tspan x="0" dy="20">splitValue: 0</tspan><tspan x="0" dy="20">nextSplitAttribute: AveOccup</tspan><tspan x="0" dy="20">mse: 2601.552762850558</tspan><tspan x="0" dy="20">samples: 3339</tspan></text></g>
<g id="n38" class="n" transform="translate(2056.6,1275.5)"><rect x="-68.25" width="136.5" height="111" rx="16"/><text y="42"><tspan x="0">id: 38</tspan><tspan x="0" dy="20">splitValue: 1</tspan><tspan x="0" dy="20">samples: 0</tspan><tspan x="0" dy="20">avgValue: nan</tspan></text></g>
<g id="n46" class="n" transform="translate(2296.3,1265)"><rect x="-126" width="252" height="132" rx="16"/><text y="42"><tspan x="0">id: 46</tspan><tspan x="0" dy="20">splitValue: 0</tspan><tspan x="0" dy="20">nextSplitAttribute: AveOccup</tspan><tspan x="0" dy="20">mse: 1117.011324534748</tspan><tspan x="0" dy="20">samples: 1950</tspan></text></g>
<g id="n49" class="n" transform="translate(2514.4,1275.5)"><rect x="-68.25" width="136.5" height="111" rx="16"/><text y="42"><tspan x="0">id: 49</tspan><tspan x="0" dy="20">splitValue: 1</tspan><tspan x="0" dy="20">samples: 0</tspan><tspan x="0" dy="20">avgValue: nan</tspan></text></g>
<g id="n55" class="n" transform="translate(2749.3,1265)"><rect x="-126" width="252" height="132" rx="16"/><text y="42"><tspan x="0">id: 55</tspan><tspan x="0" dy="20">splitValue: 0</tspan><tspan x="0" dy="20">nextSplitAttribute: AveOccup</tspan><tspan x="0" dy="20">mse: 2333.1694208474587</tspan><tspan x="0" dy="20">samples: 2160</tspan></text></g>
<g id="n58" class="n" transform="translate(2967.8,1275.5)"><rect x="-68.25" width="136.5" height="111" rx="16"/><text y="42"><tspan x="0">id: 58</tspan><tspan x="0" dy="20">splitValue: 1</tspan><tspan x="0" dy="20">samples: 0</tspan><tspan x="0" dy="20">avgValue: nan</tspan></text></g>
<g id="n65" class="n" transform="translate(3205.3,1265)"><rect x="-126" width="252" height="132" rx="16"/><text y="42"><tspan x="0">id: 65</tspan><tspan x="0" dy="20">splitValue: 0</tspan><tspan x="0" dy="20">nextSplitAttribute: AveOccup</tspan><tspan x="0" dy="20">mse: 38.52777580676635</tspan><tspan x="0" dy="20">samples: 342</tspan></text></g>
<g id="n68" class="n" transform="translate(3423.8,1275.5)"><rect x="-68.25" width="136.5" height="111" rx="16"/><text y="42"><tspan x="0">id: 68</tspan><tspan x="0" dy="20">splitValue: 1</tspan><tspan x="0" dy="20">samples: 0</tspan><tspan x="0" dy="20">avgValue: nan</tspan></text></g>
<g id="n74" class="n" transform="translate(3643.1,1265)"><rect x="-126" width="252" height="132" rx="16"/><text y="42"><tspan x="0">id: 74</tspan><tspan x="0" dy="20">splitValue: 0</tspan><tspan x="0" dy="20">nextSplitAttribute: AveOccup</tspan><tspan x="0" dy="20">mse: 10.758907943661978</tspan><tspan x="0" dy="20">samples: 213</tspan></text></g>
<g id="n77" class="n" transform="translate(3861,1275.5)"><rect x="-68.25" width="136.5" height="111" rx="16"/><text y="42"><tspan x="0">id: 77</tspan><tspan x="0" dy="20">splitValue: 1</tspan><tspan x="0" dy="20">samples: 0</tspan><tspan x="0" dy="20">avgValue: nan</tspan></text></g>
<g id="n86" class="n" transform="translate(4080,1265)"><rect x="-126" width="252" height="132" rx="16"/><text y="42"><tspan x="0">id: 86</tspan><tspan x="0" dy="20">splitValue: 0</tspan><tspan x="0" dy="20">nextSplitAttribute: AveOccup</tspan><tspan x="0" dy="20">mse: 23.151144776870964</tspan><tspan x="0" dy="20">samples: 31</tspan></text></g>
<g id="n89" class="n" transform="translate(4298.4,1275.5)"><rect x="-68.25" width="136.5" height="111" rx="16"/><text y="42"><tspan x="0">id: 89</tspan><tspan x="0" dy="20">splitValue: 1</tspan><tspan x="0" dy="20">samples: 0</tspan><tspan x="0" dy="20">avgValue: nan</tspan></text></g>
<g id="n95" class="n" transform="translate(4621.4,1265)"><rect x="-126" width="252" height="132" rx="16"/><text y="42"><tspan x="0">id: 95</tspan><tspan x="0" dy="20">splitValue: 0</tspan><tspan x="0" dy="20">nextSplitAttribute: AveOccup</tspan><tspan x="0" dy="20">mse: 1435.0730796867197</tspan><tspan x="0" dy="20">samples: 1349</tspan></text></g>
<g id="n98" class="n" transform="translate(4840,1275.5)"><rect x="-68.25" width="136.5" height="111" rx="16"/><text y="42"><tspan x="0">id: 98</tspan><tspan x="0" dy="20">splitValue: 1</tspan><tspan x="0" dy="20">samples: 0</tspan><tspan x="0" dy="20">avgValue: nan</tspan></text></g>
<g id="n105" class="n" transform="translate(5109,1265)"><rect x="-126" width="252" height="132" rx="16"/><text y="42"><tspan x="0">id: 105</tspan><tspan x="0" dy="20">splitValue: 0</tspan><tspan x="0" dy="20">nextSplitAttribute: AveOccup</tspan><tspan x="0" dy="20">mse: 846.4452861864354</tspan><tspan x="0" dy="20">samples: 830</tspan></text></g>
<g id="n108" class="n" transform="translate(5328,1275.5)"><rect x="-68.25" width="136.5" height="111" rx="16"/><text y="42"><tspan x="0">id: 108</tspan><tspan x="0" dy="20">splitValue: 1</tspan><tspan x="0" dy="20">samples: 0</tspan><tspan x="0" dy="20">avgValue: nan</tspan></text></g>
<g id="n114" class="n" transform="translate(5588,1265)"><rect x="-126" width="252" height="132" rx="16"/><text y="42"><tspan x="0">id: 114</tspan><tspan x="0" dy="20">splitValue: 0</tspan><tspan x="0" dy="20">nextSplitAttribute: AveOccup</tspan><tspan x="0" dy="20">mse: 10.215209636363639</tspan><tspan x="0" dy="20">samples: 44</tspan></text></g>
<g id="n117" class="n" transform="translate(5806.5,1275.5)"><rect x="-68.25" width="136.5" height="111" rx="16"/><text y="42"><tspan x="0">id: 117</tspan><tspan x="0" dy="20">splitValue: 1</tspan><tspan x="0" dy="20">samples: 0</tspan><tspan x="0" dy="20">avgValue: nan</tspan></text></g>
<g id="n125" class="n" transform="translate(6059,1265)"><rect x="-126" width="252" height="132" rx="16"/><text y="42"><tspan x="0">id: 125</tspan><tspan x="0" dy="20">splitValue: 0</tspan><tspan x="0" dy="20">nextSplitAttribute: AveOccup</tspan><tspan x="0" dy="20">mse: 0.5588006666666667</tspan><tspan x="0" dy="20">samples: 3</tspan></text></g>
<g id="n128" class="n" transform="translate(6277.5,1275.5)"><rect x="-68.25" width="136.5" height="111" rx="16"/><text y="42"><tspan x="0">id: 128</tspan><tspan x="0" dy="20">splitValue: 1</tspan><tspan x="0" dy="20">samples: 0</tspan><tspan x="0" dy="20">avgValue: nan</tspan></text></g>
<g id="n134" class="n" transform="translate(6525.6,1265)"><rect x="-126" width="252" height="132" rx="16"/><text y="42"><tspan x="0">id: 134</tspan><tspan x="0" dy="20">splitValue: 0</tspan><tspan x="0" dy="20">nextSplitAttribute: AveOccup</tspan><tspan x="0" dy="20">mse: 725.8860973617714</tspan><tspan x="0" dy="20">samples: 623</tspan></text></g>
<g id="n137" class="n" transform="translate(6744.3,1275.5)"><rect x="-68.25" width="136.5" height="111" rx="16"/><text y="42"><tspan x="0">id: 137</tspan><tspan x="0" dy="20">splitValue: 1</tspan><tspan x="0" dy="20">samples: 0</tspan><tspan x="0" dy="20">avgValue: nan</tspan></text></g>
<g id="n144" class="n" transform="translate(6982.7,1265)"><rect x="-126" width="252" height="132" rx="16"/><text y="42"><tspan x="0">id: 144</tspan><tspan x="0" dy="20">splitValue: 0</tspan><tspan x="0" dy="20">nextSplitAttribute: AveOccup</tspan><tspan x="0" dy="20">mse: 1290.8322957935102</tspan><tspan x="0" dy="20">samples: 910</tspan></text></g>
<g id="n147" class="n" transform="translate(7201.3,1275.5)"><rect x="-68.25" width="136.5" height="111" rx="16"/><text y="42"><tspan x="0">id: 147</tspan><tspan x="0" dy="20">splitValue: 1</tspan><tspan x="0" dy="20">samples: 0</tspan><tspan x="0" dy="20">avgValue: nan</tspan></text></g>
<g id="n153" class="n" transform="translate(7437.5,1265)"><rect x="-131" width="262" height="132" rx="16"/><text y="42"><tspan x="0">id: 153</tspan><tspan x="0" dy="20">splitValue: 0</tspan><tspan x="0" dy="20">nextSplitAttribute: AveOccup</tspan><tspan x="0" dy="20">mse: 0.054007200000000005</tspan><tspan x="0" dy="20">samples: 5</tspan></text></g>
<g id="n156" class="n" transform="translate(7661.7,1275.5)"><rect x="-68.25" width="136.5" height="111" rx="16"/><text y="42"><tspan x="0">id: 156</tspan><tspan x="0" dy="20">splitValue: 1</tspan><tspan x="0" dy="20">samples: 0</tspan><tspan x="0" dy="20">avgValue: nan</tspan></text></g>
<g id="n8" class="n" transform="translate(146.8,1445)"><rect x="-141" width="282" height="132" rx="16"/><text y="42"><tspan x="0">id: 8</tspan><tspan x="0" dy="20">splitValue: 0</tspan><tspan x="0" dy="20">mse: 68.49654856803305</tspan><tspan x="0" dy="20">samples: 121</tspan><tspan x="0" dy="20">avgValue: 1.9120992561983472</tspan></text></g>
<g id="n9" class="n" transform="translate(380,1455.5)"><rect x="-68.25" width="136.5" height="111" rx="16"/><text y="42"><tspan x="0">id: 9</tspan><tspan x="0" dy="20">splitValue: 1</tspan><tspan x="0" dy="20">samples: 0</tspan><tspan x="0" dy="20">avgValue: nan</tspan></text></g>
<g id="n17" class="n" transform="translate(713.5,1445)"><rect x="-136" width="272" height="132" rx="16"/><text y="42"><tspan x="0">id: 17</tspan><tspan x="0" dy="20">splitValue: 0</tspan><tspan x="0" dy="20">mse: 1691.5206878433005</tspan><tspan x="0" dy="20">samples: 2487</tspan><tspan x="0" dy="20">avgValue: 1.727857362283876</tspan></text></g>
<g id="n18" class="n" transform="translate(943.2,1455.5)"><rect x="-68.25" width="136.5" height="111" rx="16"/><text y="42"><tspan x="0">id: 18</tspan><tspan x="0" dy="20">splitValue: 1</tspan><tspan x="0" dy="20">samples: 0</tspan><tspan x="0" dy="20">avgValue: nan</tspan></text></g>
<g id="n27" class="n" transform="translate(1229.2,1445)"><rect x="-141" width="282" height="132" rx="16"/><text y="42"><tspan x="0">id: 27</tspan><tspan x="0" dy="20">splitValue: 0</tspan><tspan x="0" dy="20">mse: 14.105878432432434</tspan><tspan x="0" dy="20">samples: 37</tspan><tspan x="0" dy="20">avgValue: 1.7013513513513512</tspan></text></g>
<g id="n28" class="n" transform="translate(1464.6,1455.5)"><rect x="-68.25" width="136.5" height="111" rx="16"/><text y="42"><tspan x="0">id: 28</tspan><tspan x="0" dy="20">splitValue: 1</tspan><tspan x="0" dy="20">samples: 0</tspan><tspan x="0" dy="20">avgValue: nan</tspan></text></g>
<g id="n36" class="n" transform="translate(1724.1,1445)"><rect x="-141" width="282" height="132" rx="16"/><text y="42"><tspan x="0">id: 36</tspan><tspan x="0" dy="20">splitValue: 0</tspan><tspan x="0" dy="20">mse: 2601.552762850558</tspan><tspan x="0" dy="20">samples: 3339</tspan><tspan x="0" dy="20">avgValue: 1.8284353069781374</tspan></text></g>
<g id="n37" class="n" transform="translate(1958.8,1455.5)"><rect x="-68.25" width="136.5" height="111" rx="16"/><text y="42"><tspan x="0">id: 37</tspan><tspan x="0" dy="20">splitValue: 1</tspan><tspan x="0" dy="20">samples: 0</tspan><tspan x="0" dy="20">avgValue: nan</tspan></text></g>
<g id="n47" class="n" transform="translate(2201.3,1445)"><rect x="-136" width="272" height="132" rx="16"/><text y="42"><tspan x="0">id: 47</tspan><tspan x="0" dy="20">splitValue: 0</tspan><tspan x="0" dy="20">mse: 1117.011324534748</tspan><tspan x="0" dy="20">samples: 1950</tspan><tspan x="0" dy="20">avgValue: 1.492879517948718</tspan></text></g>
<g id="n48" class="n" transform="translate(2430.6,1455.5)"><rect x="-68.25" width="136.5" height="111" rx="16"/><text y="42"><tspan x="0">id: 48</tspan><tspan x="0" dy="20">splitValue: 1</tspan><tspan x="0" dy="20">samples: 0</tspan><tspan x="0" dy="20">avgValue: nan</tspan></text></g>
<g id="n56" class="n" transform="translate(2673,1445)"><rect x="-141" width="282" height="132" rx="16"/><text y="42"><tspan x="0">id: 56</tspan><tspan x="0" dy="20">splitValue: 0</tspan><tspan x="0" dy="20">mse: 2333.1694208474587</tspan><tspan x="0" dy="20">samples: 2160</tspan><tspan x="0" dy="20">avgValue: 1.8025085185185186</tspan></text></g>
<g id="n57" class="n" transform="translate(2906.4,1455.5)"><rect x="-68.25" width="136.5" height="111" rx="16"/><text y="42"><tspan x="0">id: 57</tspan><tspan x="0" dy="20">splitValue: 1</tspan><tspan x="0" dy="20">samples: 0</tspan><tspan x="0" dy="20">avgValue: nan</tspan></text></g>
<g id="n66" class="n" transform="translate(3144,1445)"><rect x="-141" width="282" height="132" rx="16"/><text y="42"><tspan x="0">id: 66</tspan><tspan x="0" dy="20">splitValue: 0</tspan><tspan x="0" dy="20">mse: 38.52777580676635</tspan><tspan x="0" dy="20">samples: 342</tspan><tspan x="0" dy="20">avgValue: 0.8719122514619883</tspan></text></g>
<g id="n67" class="n" transform="translate(3379,1455.5)"><rect x="-68.25" width="136.5" height="111" rx="16"/><text y="42"><tspan x="0">id: 67</tspan><tspan x="0" dy="20">splitValue: 1</tspan><tspan x="0" dy="20">samples: 0</tspan><tspan x="0" dy="20">avgValue: nan</tspan></text></g>
<g id="n75" class="n" transform="translate(3615,1445)"><rect x="-141" width="282" height="132" rx="16"/><text y="42"><tspan x="0">id: 75</tspan><tspan x="0" dy="20">splitValue: 0</tspan><tspan x="0" dy="20">mse: 10.758907943661978</tspan><tspan x="0" dy="20">samples: 213</tspan><tspan x="0" dy="20">avgValue: 0.7009295774647888</tspan></text></g>
<g id="n76" class="n" transform="translate(3849,1455.5)"><rect x="-68.25" width="136.5" height="111" rx="16"/><text y="42"><tspan x="0">id: 76</tspan><tspan x="0" dy="20">splitValue: 1</tspan><tspan x="0" dy="20">samples: 0</tspan><tspan x="0" dy="20">avgValue: nan</tspan></text></g>
<g id="n87" class="n" transform="translate(4080,1445)"><rect x="-136" width="272" height="132" rx="16"/><text y="42"><tspan x="0">id: 87</tspan><tspan x="0" dy="20">splitValue: 0</tspan><tspan x="0" dy="20">mse: 23.151144776870964</tspan><tspan x="0" dy="20">samples: 31</tspan><tspan x="0" dy="20">avgValue: 2.770839032258065</tspan></text></g>
<g id="n88" class="n" transform="translate(4310,1455.5)"><rect x="-68.25" width="136.5" height="111" rx="16"/><text y="42"><tspan x="0">id: 88</tspan><tspan x="0" dy="20">splitValue: 1</tspan><tspan x="0" dy="20">samples: 0</tspan><tspan x="0" dy="20">avgValue: nan</tspan></text></g>
<g id="n96" class="n" transform="translate(4593,1445)"><rect x="-141" width="282" height="132" rx="16"/><text y="42"><tspan x="0">id: 96</tspan><tspan x="0" dy="20">splitValue: 0</tspan><tspan x="0" dy="20">mse: 1435.0730796867197</tspan><tspan x="0" dy="20">samples: 1349</tspan><tspan x="0" dy="20">avgValue: 2.9532181986656783</tspan></text></g>
<g id="n97" class="n" transform="translate(4828.3,1455.5)"><rect x="-68.25" width="136.5" height="111" rx="16"/><text y="42"><tspan x="0">id: 97</tspan><tspan x="0" dy="20">splitValue: 1</tspan><tspan x="0" dy="20">samples: 0</tspan><tspan x="0" dy="20">avgValue: nan</tspan></text></g>
<g id="n106" class="n" transform="translate(5088.5,1445)"><rect x="-141" width="282" height="132" rx="16"/><text y="42"><tspan x="0">id: 106</tspan><tspan x="0" dy="20">splitValue: 0</tspan><tspan x="0" dy="20">mse: 846.4452861864354</tspan><tspan x="0" dy="20">samples: 830</tspan><tspan x="0" dy="20">avgValue: 2.8946140722891562</tspan></text></g>
<g id="n107" class="n" transform="translate(5323,1455.5)"><rect x="-68.25" width="136.5" height="111" rx="16"/><text y="42"><tspan x="0">id: 107</tspan><tspan x="0" dy="20">splitValue: 1</tspan><tspan x="0" dy="20">samples: 0</tspan><tspan x="0" dy="20">avgValue: nan</tspan></text></g>
<g id="n115" class="n" transform="translate(5569.4,1445)"><rect x="-141" width="282" height="132" rx="16"/><text y="42"><tspan x="0">id: 115</tspan><tspan x="0" dy="20">splitValue: 0</tspan><tspan x="0" dy="20">mse: 10.215209636363639</tspan><tspan x="0" dy="20">samples: 44</tspan><tspan x="0" dy="20">avgValue: 1.4409090909090911</tspan></text></g>
<g id="n116" class="n" transform="translate(5804,1455.5)"><rect x="-68.25" width="136.5" height="111" rx="16"/><text y="42"><tspan x="0">id: 116</tspan><tspan x="0" dy="20">splitValue: 1</tspan><tspan x="0" dy="20">samples: 0</tspan><tspan x="0" dy="20">avgValue: nan</tspan></text></g>
<g id="n126" class="n" transform="translate(6045.4,1445)"><rect x="-141" width="282" height="132" rx="16"/><text y="42"><tspan x="0">id: 126</tspan><tspan x="0" dy="20">splitValue: 0</tspan><tspan x="0" dy="20">mse: 0.5588006666666667</tspan><tspan x="0" dy="20">samples: 3</tspan><tspan x="0" dy="20">avgValue: 1.8896666666666668</tspan></text></g>
<g id="n127" class="n" transform="translate(6280,1455.5)"><rect x="-68.25" width="136.5" height="111" rx="16"/><text y="42"><tspan x="0">id: 127</tspan><tspan x="0" dy="20">splitValue: 1</tspan><tspan x="0" dy="20">samples: 0</tspan><tspan x="0" dy="20">avgValue: nan</tspan></text></g>
<g id="n135" class="n" transform="translate(6512.4,1445)"><rect x="-136" width="272" height="132" rx="16"/><text y="42"><tspan x="0">id: 135</tspan><tspan x="0" dy="20">splitValue: 0</tspan><tspan x="0" dy="20">mse: 725.8860973617714</tspan><tspan x="0" dy="20">samples: 623</tspan><tspan x="0" dy="20">avgValue: 3.563151460674157</tspan></text></g>
<g id="n136" class="n" transform="translate(6741,1455.5)"><rect x="-68.25" width="136.5" height="111" rx="16"/><text y="42"><tspan x="0">id: 136</tspan><tspan x="0" dy="20">splitValue: 1</tspan><tspan x="0" dy="20">samples: 0</tspan><tspan x="0" dy="20">avgValue: nan</tspan></text></g>
<g id="n145" class="n" transform="translate(6977,1445)"><rect x="-141" width="282" height="132" rx="16"/><text y="42"><tspan x="0">id: 145</tspan><tspan x="0" dy="20">splitValue: 0</tspan><tspan x="0" dy="20">mse: 1290.8322957935102</tspan><tspan x="0" dy="20">samples: 910</tspan><tspan x="0" dy="20">avgValue: 3.4719913626373624</tspan></text></g>
<g id="n146" class="n" transform="translate(7211.6,1455.5)"><rect x="-68.25" width="136.5" height="111" rx="16"/><text y="42"><tspan x="0">id: 146</tspan><tspan x="0" dy="20">splitValue: 1</tspan><tspan x="0" dy="20">samples: 0</tspan><tspan x="0" dy="20">avgValue: nan</tspan></text></g>
<g id="n154" class="n" transform="translate(7437.5,1445)"><rect x="-131" width="262" height="132" rx="16"/><text y="42"><tspan x="0">id: 154</tspan><tspan x="0" dy="20">splitValue: 0</tspan><tspan x="0" dy="20">mse: 0.054007200000000005</tspan><tspan x="0" dy="20">samples: 5</tspan><tspan x="0" dy="20">avgValue: 1.5964</tspan></text></g>
<g id="n155" class="n" transform="translate(7661.7,1455.5)"><rect x="-68.25" width="136.5" height="111" rx="16"/><text y="42"><tspan x="0">id: 155</tspan><tspan x="0" dy="20">splitValue: 1</tspan><tspan x="0" dy="20">samples: 0</tspan><tspan x="0" dy="20">avgValue: nan</tspan></text></g>
</g>
</g>
</svg>
